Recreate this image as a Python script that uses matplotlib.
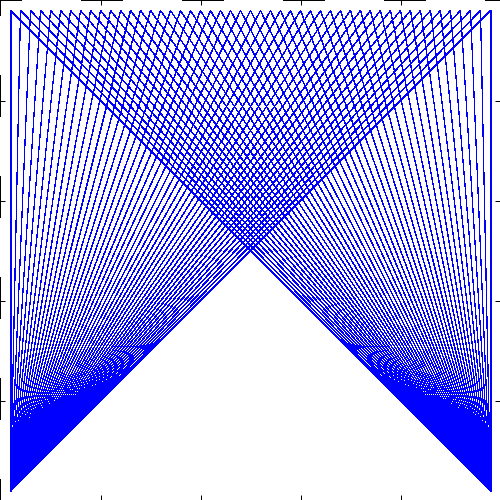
import matplotlib
matplotlib.use("Agg")
import matplotlib.pyplot as plt

# Top edge anchor points (x values) and the shared top y value
top_x = [1, 2, 3, 4, 5, 6, 7, 8, 9, 10,
         11, 12, 13, 14, 15, 16, 17, 18, 19, 20,
         21, 22, 23, 24, 25, 26, 27, 28, 29, 30,
         31, 32, 33, 34, 35, 36, 37, 38, 39, 40,
         41, 42, 43, 44, 45, 46, 47, 48, 49]
top_y = 49

# Bottom corners that every top point is joined to
corner_x = [1, 49]
corner_y = 1


def main():
    dpi = 72
    fig = plt.figure(figsize=(500 / dpi, 500 / dpi), dpi=dpi)
    ax = fig.add_axes([0, 0, 1, 1])

    for cx in corner_x:
        for tx in top_x:
            ax.plot([cx, tx], [corner_y, top_y], color="#0000ff",
                    linewidth=0.25, antialiased=False)

    # half-pixel shift so the 1 px lines land on pixel centres
    ax.set_xlim(-0.05, 49.95)
    ax.set_ylim(0.05, 50.05)
    ax.set_xticks([10, 20, 30, 40])
    ax.set_yticks([10, 20, 30, 40])
    ax.tick_params(direction="in", length=5, width=1, top=True, right=True,
                   labelbottom=False, labelleft=False)

    for spine in ax.spines.values():
        spine.set_linewidth(1)
        spine.set_linestyle((20, (40, 60)))
        spine.set_antialiased(False)

    fig.savefig("out.png", dpi=dpi)


if __name__ == "__main__":
    main()
